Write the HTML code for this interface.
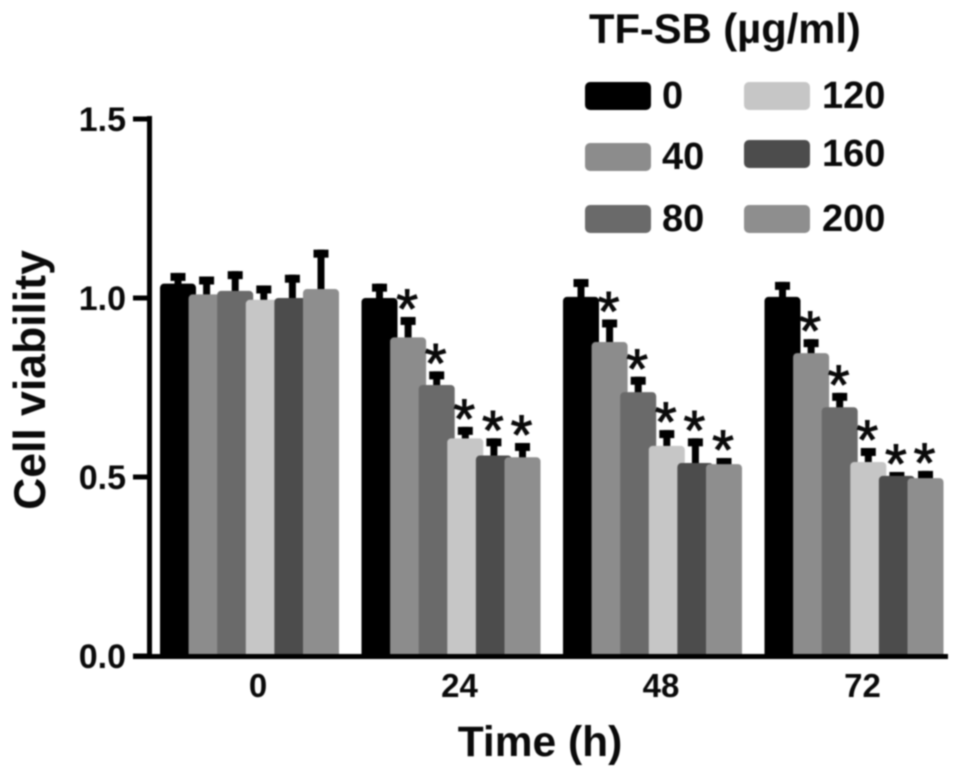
<!DOCTYPE html>
<html lang="en">
<head>
<meta charset="utf-8">
<title>Cell viability chart</title>
<style>
html,body{margin:0;padding:0;background:#fff;width:969px;height:776px;overflow:hidden}
svg{display:block;filter:blur(0.8px)}
text{font-family:"Liberation Sans",sans-serif;font-weight:bold;fill:#0a0a0a}
</style>
</head>
<body>
<svg id="chart" width="969" height="776" viewBox="0 0 969 776" xmlns="http://www.w3.org/2000/svg"></svg>
<script>
const timeLabels = ["0", "24", "48", "72"];
const doseLabels = ["0", "40", "80", "120", "160", "200"];
const doseColors = ["#000000", "#8c8c8c", "#6a6a6a", "#c6c6c6", "#4c4c4c", "#8e8e8e"];
const yTicks = [0, 0.5, 1.0, 1.5];
const viability = [
  [1.04, 1.01, 1.02, 0.995, 1.0, 1.025],
  [1.0, 0.89, 0.757, 0.608, 0.56, 0.555],
  [1.003, 0.877, 0.737, 0.587, 0.539, 0.536],
  [1.003, 0.846, 0.695, 0.542, 0.503, 0.497]
];
const errorTops = [
  [1.07, 1.06, 1.075, 1.035, 1.065, 1.135],
  [1.04, 0.947, 0.795, 0.64, 0.608, 0.595],
  [1.053, 0.94, 0.78, 0.631, 0.608, 0.553],
  [1.045, 0.885, 0.735, 0.581, 0.514, 0.517]
];
const significant = [
  [false, false, false, false, false, false],
  [false, true, true, true, true, true],
  [false, true, true, true, true, true],
  [false, true, true, true, true, true]
];

const svg = document.getElementById('chart');
const NS = 'http://www.w3.org/2000/svg';
function make(tag, attrs, text) {
  const el = document.createElementNS(NS, tag);
  for (const k in attrs) el.setAttribute(k, attrs[k]);
  if (text !== undefined) el.textContent = text;
  svg.appendChild(el);
  return el;
}
function yScale(v) { return 656 - v * 358; }
function xGroup(g) { return 160 + g * 201.5; }
function xBar(g, s) { return xGroup(g) + s * 28.6; }
const barW = 36;

/* bars and error bars */
viability.forEach(function (vals, g) {
  vals.forEach(function (v, s) {
    const cx = xBar(g, s) + barW / 2;
    const top = yScale(errorTops[g][s]);
    const stem = make('rect', { x: cx - 3.5, y: top, width: 7, height: yScale(v) - top + 3, fill: '#000' });
    
    
    const cap = make('rect', { x: cx - 7.5, y: top, width: 15, height: 8, fill: '#000' });
    
    
    const bar = make('rect', { x: xBar(g, s), y: yScale(v), width: barW, height: 656 - yScale(v) + 3, rx: 4, fill: doseColors[s] });
    
    
    if (significant[g][s]) {
      const star = make('text', { x: cx - 1, y: top + 11, 'text-anchor': 'middle', 'font-size': 56, style: 'font-weight:normal;stroke:#0a0a0a;stroke-width:1' }, '*');
      
      
    }
  });
});

/* axes */
const yAxis = make('rect', { x: 147, y: 116, width: 5, height: 543, fill: '#000' });


const xAxis = make('rect', { x: 133, y: 654, width: 815, height: 5, fill: '#000' });



yTicks.forEach(function (t) {
  const tick = make('rect', { x: 133, y: yScale(t) - 2.5, width: 16, height: 5, fill: '#000' });
  
  
  const label = make('text', { x: 126, y: yScale(t) + 12, 'text-anchor': 'end', 'font-size': 34 }, t.toFixed(1));
  
  
});

timeLabels.forEach(function (t, g) {
  const label = make('text', { x: xGroup(g) + 98, y: 697, 'text-anchor': 'middle', 'font-size': 33 }, t);
  
  
});

const xTitle = make('text', { x: 540, y: 756, 'text-anchor': 'middle', 'font-size': 42.5 }, 'Time (h)');


const yTitle = make('text', { x: 0, y: 0, 'text-anchor': 'middle', 'font-size': 44.5, transform: 'translate(45 380) rotate(-90)' }, 'Cell viability');



/* legend */
const legendTitle = make('text', { x: 589, y: 43, 'font-size': 41.7 }, 'TF-SB (µg/ml)');


const legendRows = [0, 1, 2];
const legendCols = [0, 1];
doseLabels.forEach(function (d, i) {
  const col = legendCols[Math.floor(i / legendRows.length)];
  const row = legendRows[i % legendRows.length];
  const sx = col === 0 ? 585 : 744;
  const sy = col === 0 ? [82, 143, 205][row] : [82, 140, 205][row];
  const swatch = make('rect', { x: sx, y: sy, width: 66, height: 28, rx: 5, fill: doseColors[i] });
  
  
  const lab = make('text', { x: sx + (col === 0 ? 77 : 78), y: sy + 26, 'font-size': 38 }, d);
  
  
});
</script>
</body>
</html>
